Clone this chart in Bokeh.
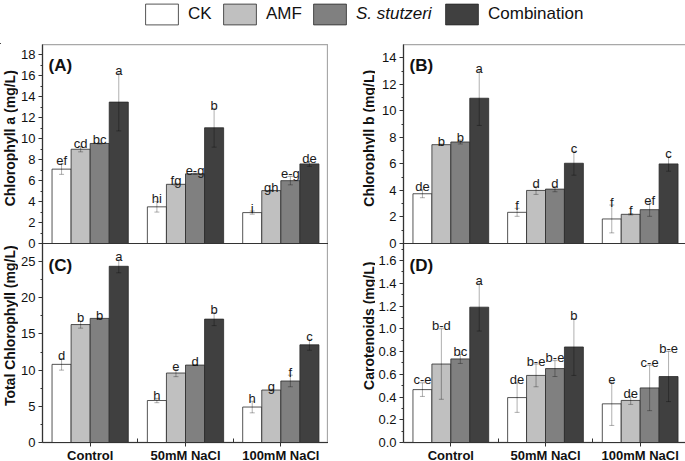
import math
from bokeh.plotting import figure
from bokeh.models import (Range1d, ColumnDataSource, Whisker, TeeHead, Span, Label,
                          Legend, LegendItem, FixedTicker)
from bokeh.layouts import column, row
from bokeh.core.properties import value
from bokeh.embed import file_html
from bokeh.resources import INLINE

# ---------------- data ----------------
groups = ["Control", "50mM NaCl", "100mM NaCl"]
series = ["CK", "AMF", "S. stutzeri", "Combination"]
colors = ["#ffffff", "#c0c0c0", "#808080", "#404040"]

# Chlorophyll a (mg/L): rows = series (CK, AMF, S. stutzeri, Combination), cols = groups
chla_mean = [[7.1, 3.5, 2.95], [9.0, 5.65, 5.05], [9.55, 6.65, 6.0], [13.5, 11.05, 7.6]]
chla_err = [[0.5, 0.5, 0.15], [0.25, 0.1, 0.05], [0.05, 0.05, 0.4], [2.75, 1.85, 0.23]]
chla_letters = [["ef", "hi", "i"], ["cd", "fg", "gh"], ["bc", "e-g", "e-g"], ["a", "b", "de"]]

# Chlorophyll b (mg/L)
chlb_mean = [[3.75, 2.35, 1.85], [7.45, 4.0, 2.2], [7.65, 4.1, 2.55], [10.95, 6.05, 6.0]]
chlb_err = [[0.3, 0.3, 1.05], [0.05, 0.3, 0.05], [0.15, 0.2, 0.5], [2.05, 0.9, 0.55]]
chlb_letters = [["de", "f", "f"], ["b", "d", "f"], ["b", "d", "ef"], ["a", "c", "c"]]

# Total chlorophyll (mg/L)
tot_mean = [[10.8, 5.8, 4.9], [16.3, 9.6, 7.25], [17.15, 10.7, 8.5], [24.35, 17.05, 13.5]]
tot_err = [[0.8, 0.3, 0.8], [0.5, 0.5, 0.1], [0.05, 0.05, 0.8], [0.9, 0.9, 0.75]]
tot_letters = [["d", "h", "h"], ["b", "e", "g"], ["b", "d", "f"], ["a", "b", "c"]]

# Carotenoids (mg/L)
car_mean = [[0.465, 0.395, 0.34], [0.69, 0.59, 0.37], [0.735, 0.65, 0.48], [1.19, 0.84, 0.58]]
car_err = [[0.06, 0.13, 0.19], [0.31, 0.10, 0.035], [0.04, 0.07, 0.2], [0.21, 0.25, 0.22]]
car_letters = [["c-e", "de", "e"], ["b-d", "b-e", "de"], ["bc", "b-e", "c-e"], ["a", "b", "b-e"]]

FONT = "Liberation Sans"
offsets = [-0.3, -0.1, 0.1, 0.3]
FRAME_H = 199  # height of one panel


def panel_source(mean, err, letters):
    xs, tops, ups, los, lets, cols = [], [], [], [], [], []
    for i in range(4):
        for g in range(3):
            xs.append(g + 0.5 + offsets[i])
            tops.append(mean[i][g])
            ups.append(mean[i][g] + err[i][g])
            los.append(mean[i][g] - err[i][g])
            lets.append(letters[i][g])
            cols.append(colors[i])
    return ColumnDataSource(dict(x=xs, top=tops, upper=ups, lower=los, letter=lets, color=cols))


def draw_panel(p, src, range_name):
    p.vbar(x="x", top="top", bottom=0, width=0.2, fill_color="color",
           line_color="#2a2a2a", line_width=0.8, source=src, y_range_name=range_name)
    head = dict(size=5, line_color="black", line_width=0.7, line_alpha=0.45)
    p.add_layout(Whisker(source=src, base="x", upper="upper", lower="lower",
                         line_color="black", line_width=0.7, line_alpha=0.45,
                         level="annotation", y_range_name=range_name,
                         upper_head=TeeHead(**head), lower_head=TeeHead(**head)))
    p.text(x="x", y="upper", text="letter", source=src, text_align="center",
           text_baseline="alphabetic", y_offset=-3, text_font=value(FONT),
           text_font_size="13px", text_color="#1a1a1a", y_range_name=range_name)


def tick_values(ymax, step):
    major, minor = [], []
    k = 0
    while k * step < ymax - 1e-9:
        major.append(k * step)
        if (k + 0.5) * step < ymax - 1e-9:
            minor.append((k + 0.5) * step)
        k += 1
    return major, minor


def make_column(top, bottom, left_col):
    """One figure holding an upper panel (extra y range) and a lower panel (main y range)."""
    t_mean, t_err, t_let, t_max, t_step, t_tag, t_fmt = top
    b_mean, b_err, b_let, b_max, b_step, b_tag, b_fmt = bottom
    fw = 286 if left_col else 284
    p = figure(frame_width=fw, frame_height=2 * FRAME_H,
               x_range=Range1d(0, 3), y_range=Range1d(0, 2 * b_max),
               output_backend="svg", toolbar_location=None,
               min_border_left=22, min_border_right=0 if left_col else 2,
               min_border_top=0, min_border_bottom=0,
               background_fill_color="white", border_fill_color="white")
    p.extra_y_ranges = {"top": Range1d(-t_max, t_max)}
    p.xgrid.visible = False
    p.ygrid.visible = False
    p.outline_line_color = "#a8a8a8"
    p.outline_line_width = 1.3

    draw_panel(p, panel_source(b_mean, b_err, b_let), "default")
    draw_panel(p, panel_source(t_mean, t_err, t_let), "top")

    # x-axis line of the upper panel
    p.add_layout(Span(location=0, dimension="width", y_range_name="top",
                      line_color="#333333", line_width=1.2))

    # shared left axis: lower-panel ticks on main range, upper-panel ticks mapped onto it
    b_major, b_minor = tick_values(b_max, b_step)
    t_major, t_minor = tick_values(t_max, t_step)
    to_main = lambda v: (v + t_max) * b_max / t_max
    ticks, overrides = [], {}
    for v in b_major:
        ticks.append(v)
        overrides[v] = b_fmt % v
    for v in t_major:
        pos = to_main(v)
        ticks.append(pos)
        overrides[pos] = t_fmt % v
    minors = list(b_minor) + [to_main(v) for v in t_minor]

    ya = p.yaxis[0]
    ya.ticker = FixedTicker(ticks=ticks, minor_ticks=minors)
    ya.major_label_overrides = overrides
    ya.major_label_text_font = FONT
    ya.major_label_text_font_size = "13px"
    ya.major_label_text_color = "#111111"
    ya.major_label_standoff = 3
    ya.major_tick_in = 0
    ya.major_tick_out = 4
    ya.minor_tick_in = 0
    ya.minor_tick_out = 2
    ya.axis_line_color = "#333333"
    ya.major_tick_line_color = "#333333"
    ya.minor_tick_line_color = "#333333"
    ya.axis_line_width = 1.2

    for tag, ytop in ((t_tag, 2 * FRAME_H - 11), (b_tag, FRAME_H - 12)):
        p.add_layout(Label(x=6, y=ytop, x_units="screen", y_units="screen", text=tag,
                           text_baseline="top", text_font=FONT, text_font_style="bold",
                           text_font_size="17px", text_color="#111111"))

    xa = p.xaxis[0]
    xa.ticker = FixedTicker(ticks=[0.5, 1.5, 2.5], minor_ticks=[1.0, 2.0])
    xa.major_label_overrides = {0.5: groups[0], 1.5: groups[1], 2.5: groups[2]}
    xa.major_label_text_font = FONT
    xa.major_label_text_font_style = "bold"
    xa.major_label_text_font_size = "13px"
    xa.major_label_text_color = "#111111"
    xa.major_label_standoff = 1
    xa.major_tick_in = 0
    xa.major_tick_out = 4
    xa.minor_tick_in = 4
    xa.minor_tick_out = 0
    xa.axis_line_color = "#333333"
    xa.major_tick_line_color = "#333333"
    xa.minor_tick_line_color = "#333333"
    xa.axis_line_width = 1.2
    return p


def title_strip(width, xc, top_title, bottom_title):
    """Narrow figure carrying the two rotated y-axis titles of one column."""
    s = figure(width=width, height=2 * FRAME_H, x_range=Range1d(0, width),
               y_range=Range1d(0, 2 * FRAME_H), output_backend="svg", toolbar_location=None,
               min_border_left=0, min_border_right=0, min_border_top=0, min_border_bottom=0,
               background_fill_color="white", border_fill_color="white")
    s.axis.visible = False
    s.grid.visible = False
    s.outline_line_color = None
    s.text(x=[xc, xc], y=[FRAME_H * 1.5, FRAME_H * 0.5], text=[top_title, bottom_title],
           angle=math.pi / 2, text_align="center", text_baseline="middle",
           text_font=value(FONT), text_font_style="bold", text_font_size="14px",
           text_color="#111111")
    return s


left = make_column(
    (chla_mean, chla_err, chla_letters, 19, 2, "(A)", "%d"),
    (tot_mean, tot_err, tot_letters, 27.5, 5, "(C)", "%d"),
    True)
right = make_column(
    (chlb_mean, chlb_err, chlb_letters, 15, 2, "(B)", "%d"),
    (car_mean, car_err, car_letters, 1.75, 0.2, "(D)", "%.1f"),
    False)
strip_l = title_strip(18, 9.5, "Chlorophyll a (mg/L)", "Total Chlorophyll (mg/L)")
strip_r = title_strip(47, 40, "Chlorophyll b (mg/L)", "Carotenoids (mg/L)")

# ---------------- legend strip ----------------
leg = figure(width=685, height=44, x_range=Range1d(0, 685), y_range=Range1d(0, 44),
             output_backend="svg", toolbar_location=None,
             min_border_left=0, min_border_right=0, min_border_top=0, min_border_bottom=0,
             background_fill_color="white", border_fill_color="white")
leg.axis.visible = False
leg.grid.visible = False
leg.outline_line_color = None

legend_x = [141, 219, 309, 441]
for i, name in enumerate(series):
    r = leg.vbar(x=[-1000], top=[1], width=1, fill_color=colors[i],
                 line_color="#2a2a2a", line_width=0.8)
    lg = Legend(items=[LegendItem(label=name, renderers=[r])], location=(legend_x[i], 17),
                orientation="horizontal", glyph_width=41, glyph_height=26, label_height=26,
                label_standoff=6, padding=0, margin=0, spacing=0,
                label_text_font=FONT, label_text_font_size="17px", label_text_color="#111111",
                label_text_font_style="italic" if name == "S. stutzeri" else "normal",
                border_line_alpha=0, background_fill_alpha=0)
    leg.add_layout(lg)

layout = column(leg, row(strip_l, left, strip_r, right))
open("out.html", "w").write(file_html(layout, INLINE))
